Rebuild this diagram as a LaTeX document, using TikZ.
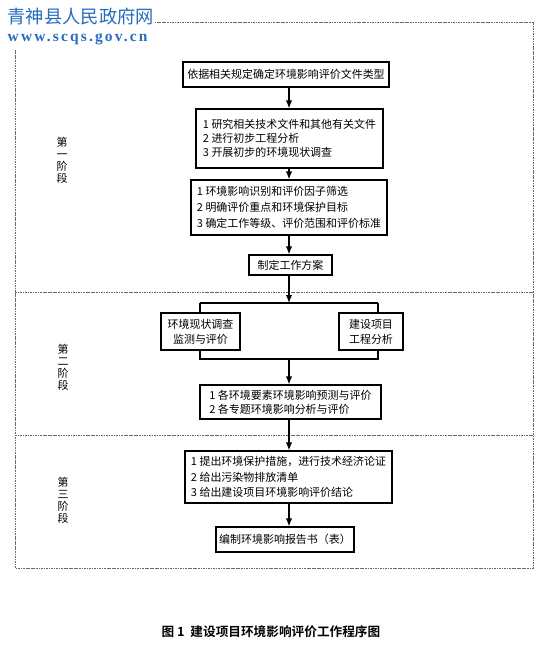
\documentclass[tikz,border=0pt]{standalone}
\usepackage{fontspec}
\usepackage{xcolor}
\usepackage{tikz}
\usetikzlibrary{arrows.meta,positioning}
\setmainfont{Noto Sans CJK SC}[BoldFont={Noto Sans CJK SC Bold}]
\newfontfamily\urlfont[LetterSpace=14]{Liberation Serif}
\definecolor{SiteBlue}{RGB}{38,110,190}
\definecolor{FrameGray}{RGB}{105,105,105}

\begin{document}
\begin{tikzpicture}[
  x=0.025cm, y=-0.025cm,
  stepbox/.style={
    draw,
    line width=0.8pt,
    inner sep=0pt,
    align=left,
    font=\fontsize{7.8pt}{9.8pt}\selectfont
  },
  widebox/.style={stepbox, font=\fontsize{7.8pt}{11.6pt}\selectfont},
  midbox/.style={stepbox, align=center, font=\fontsize{7.8pt}{10.7pt}\selectfont},
  arr/.style={-{Latex[length=2mm,width=1.6mm]}, line width=0.9pt},
  link/.style={line width=0.9pt},
  framedash/.style={draw=FrameGray, line width=0.6pt, dash pattern=on 1.2pt off 0.6pt},
  stage/.style={align=center, inner sep=0pt, font=\fontsize{7.8pt}{8.6pt}\selectfont},
  caption/.style={font=\fontsize{9pt}{11pt}\selectfont\bfseries}
]
\useasboundingbox (0,0) rectangle (555,646);

% outer frame and stage dividers
\draw[framedash] (15,22) rectangle (533,568);
\draw[framedash] (15,292) -- (533,292);
\draw[framedash] (15,435) -- (533,435);

\node[anchor=north west, fill=white, inner xsep=1pt, inner ysep=3pt, align=left,
  text=SiteBlue] (site) at (6,3)
  {{\fontsize{13pt}{14pt}\selectfont 青神县人民政府网}\\[1pt]
   {\urlfont\bfseries\fontsize{11pt}{12pt}\selectfont www.scqs.gov.cn}};

\coordinate (axis) at (289,0);

% stage one
\node[stepbox, align=center, minimum width=5.15cm, minimum height=0.625cm] (basis) at (286,74.5)
  {依据相关规定确定环境影响评价文件类型};
\node[stepbox, minimum width=4.675cm, minimum height=1.475cm] (prep) at (289.5,138.5)
  {1 研究相关技术文件和其他有关文件\\2 进行初步工程分析\\3 开展初步的环境现状调查};
\node[widebox, minimum width=4.9cm, minimum height=1.375cm] (screen) at (289,207.5)
  {1 环境影响识别和评价因子筛选\\2 明确评价重点和环境保护目标\\3 确定工作等级、评价范围和评价标准};
\node[stepbox, align=center, minimum width=2.075cm, minimum height=0.5cm] (plan) at (290.5,265)
  {制定工作方案};

% stage two
\coordinate (splitL) at (200,303);
\coordinate (splitR) at (378,303);
\coordinate (mergeL) at (200,359);
\coordinate (mergeR) at (378,359);
\node[midbox, minimum width=1.975cm, minimum height=0.925cm] (survey) at (200.5,331.5)
  {环境现状调查\\监测与评价};
\node[midbox, minimum width=1.6cm, minimum height=0.925cm] (project) at (371,331.5)
  {建设项目\\工程分析};
\node[stepbox, minimum width=4.525cm, minimum height=0.85cm] (predict) at (290.5,402)
  {1 各环境要素环境影响预测与评价\\2 各专题环境影响分析与评价};

% stage three
\node[widebox, font=\fontsize{7.8pt}{11pt}\selectfont, minimum width=5.175cm, minimum height=1.3cm] (measure) at (288.5,477)
  {1 提出环境保护措施，进行技术经济论证\\2 给出污染物排放清单\\3 给出建设项目环境影响评价结论};
\node[stepbox, align=center, minimum width=3.45cm, minimum height=0.625cm] (report) at (285,539.5)
  {编制环境影响报告书（表）};

\draw[arr] (basis.south -| axis) -- (prep.north -| axis);
\draw[arr] (prep.south -| axis) -- (screen.north -| axis);
\draw[arr] (screen.south -| axis) -- (plan.north -| axis);
\draw[arr] (plan.south -| axis) -- (splitL -| axis);
\draw[link] (splitL) -- (splitR);
\draw[link] (splitL) -- (survey.north -| splitL);
\draw[link] (splitR) -- (project.north -| splitR);
\draw[link] (survey.south -| mergeL) -- (mergeL) -- (mergeR) -- (project.south -| mergeR);
\draw[arr] (mergeL -| axis) -- (predict.north -| axis);
\draw[arr] (predict.south -| axis) -- (measure.north -| axis);
\draw[arr] (measure.south -| axis) -- (report.north -| axis);

% stage labels
\node[stage] (stageone) at (62,160) {第\\一\\阶\\段};
\node[stage] (stagetwo) at (63,367) {第\\二\\阶\\段};
\node[stage] (stagethree) at (63,500) {第\\三\\阶\\段};

\node[caption] (title) at (271,632) {图 1\ \ 建设项目环境影响评价工作程序图};
\end{tikzpicture}
\end{document}
